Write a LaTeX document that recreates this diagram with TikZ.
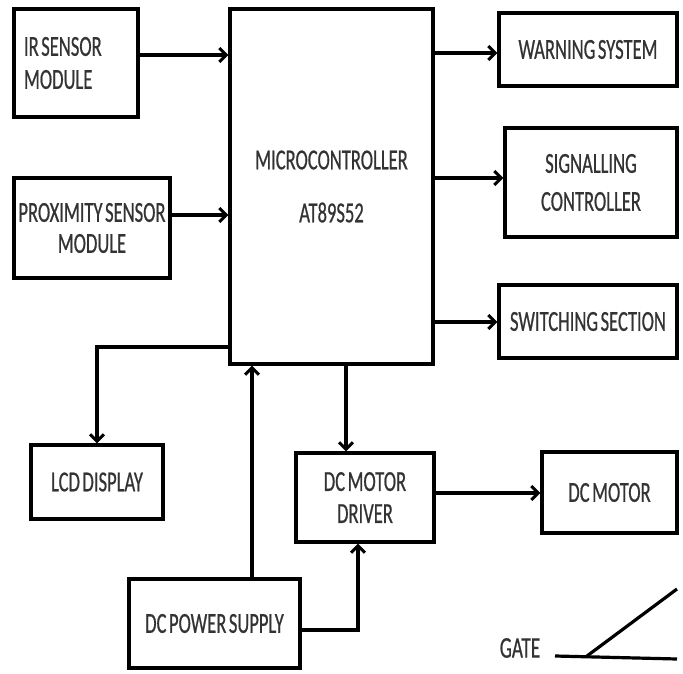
\documentclass[tikz,border=0pt]{standalone}
\usepackage{fontspec}
\setmainfont{Carlito}[FakeStretch=0.64,FakeBold=0.6,WordSpace=0.6]
\usetikzlibrary{arrows.meta}
\begin{document}
\begin{tikzpicture}[x=1pt,y=-1pt,
  box/.style={draw=black, line width=3.2pt, rectangle, inner sep=0pt, align=center, font=\fontsize{29}{33}\selectfont, text=black!80},
  arr/.style={line width=3.2pt, -{Straight Barb[length=7pt,width=14pt,line width=3pt]}},
  wire/.style={line width=3.2pt}]
\useasboundingbox (0,0) rectangle (683,674);
\node[box, minimum width=124pt, minimum height=108pt, text width=104pt, align=flush left] (ir) at (76,63) {IR SENSOR\\[0pt]MODULE};
\node[box, minimum width=156pt, minimum height=100pt] (prox) at (92,228) {PROXIMITY SENSOR\\[-2pt]MODULE};
\node[box, minimum width=203pt, minimum height=355pt] (micro) at (331.5,186.5) {MICROCONTROLLER\\[20pt]AT89S52};
\node[box, minimum width=178pt, minimum height=73pt] (warn) at (588,49.5) {WARNING SYSTEM};
\node[box, minimum width=172pt, minimum height=109pt] (sig) at (591,182.5) {SIGNALLING\\[5pt]CONTROLLER};
\node[box, minimum width=178pt, minimum height=73pt] (sw) at (588,321.5) {SWITCHING SECTION};
\node[box, minimum width=132pt, minimum height=74pt] (lcd) at (97,482) {LCD DISPLAY};
\node[box, minimum width=138pt, minimum height=89pt] (drv) at (365,497.5) {DC MOTOR\\[-1pt]DRIVER};
\node[box, minimum width=135pt, minimum height=81pt] (motor) at (609.5,492.5) {DC MOTOR};
\node[box, minimum width=171pt, minimum height=89pt] (power) at (214.5,623.5) {DC POWER SUPPLY};
\node[font=\fontsize{30}{33}\selectfont, text=black!80, inner sep=0pt] (gate) at (520,648) {GATE};
\coordinate (g1) at (555,656);
\coordinate (g2) at (677,659);
\coordinate (g3) at (587,656);
\coordinate (g4) at (677,589);
\draw[arr] (ir.east |- 0,55) -- (micro.west |- 0,55);
\draw[arr] (prox.east |- 0,215) -- (micro.west |- 0,215);
\draw[arr] (micro.east |- 0,53) -- (warn.west |- 0,53);
\draw[arr] (micro.east |- 0,178) -- (sig.west |- 0,178);
\draw[arr] (micro.east |- 0,322) -- (sw.west |- 0,322);
\draw[arr] (micro.west |- 0,347) -| (lcd.north);
\draw[arr] (power.north -| 252,0) -- (micro.south -| 252,0);
\draw[arr] (micro.south -| 346,0) -- (drv.north -| 346,0);
\draw[arr] (power.east |- 0,630) -| (drv.south -| 358,0);
\draw[arr] (drv.east |- 0,493) -- (motor.west |- 0,493);
\draw[wire] (g1) -- (g2);
\draw[wire] (g3) -- (g4);
\end{tikzpicture}
\end{document}
